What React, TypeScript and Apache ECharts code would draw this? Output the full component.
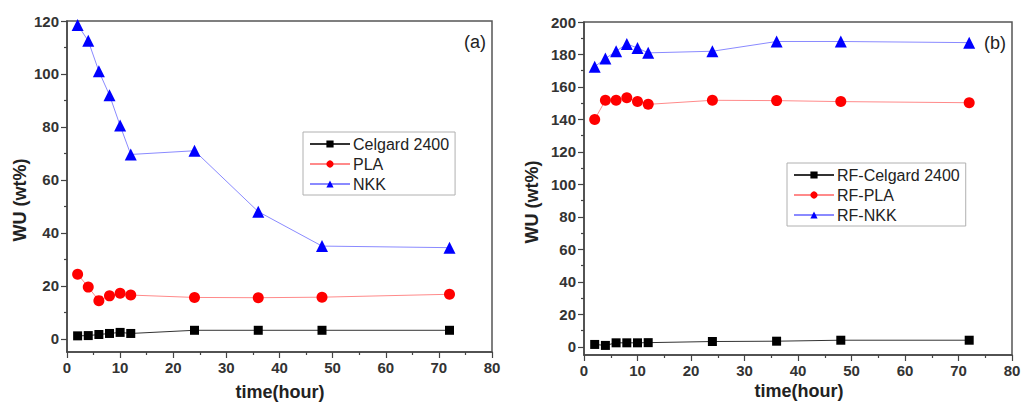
import React, { useEffect, useRef } from "react";
import * as echarts from "echarts";

const timeHours = [2, 4, 6, 8, 10, 12, 24, 36, 48, 72];

const celgardA = [1.1, 1.2, 1.6, 2.0, 2.4, 2.0, 3.2, 3.2, 3.2, 3.2];
const plaA = [24.4, 19.5, 14.4, 16.2, 17.2, 16.5, 15.6, 15.5, 15.7, 16.8];
const nkkA = [118.5, 112.5, 101, 92, 80.5, 69.6, 71, 48, 35, 34.4];

const celgardB = [1.5, 0.9, 2.5, 2.5, 2.5, 2.6, 3.3, 3.5, 4.1, 4.1];
const plaB = [140, 151.8, 151.8, 153.4, 151, 149.3, 151.8, 151.6, 151, 150.3];
const nkkB = [172.5, 177.5, 182, 186.5, 184, 181, 182, 188, 188, 187.3];

const namesA = ["Celgard 2400", "PLA", "NKK"];
const namesB = ["RF-Celgard 2400", "RF-PLA", "RF-NKK"];

const yMajorA = [0, 20, 40, 60, 80, 100, 120];
const yMinorA = [10, 30, 50, 70, 90, 110];
const yMajorB = [0, 20, 40, 60, 80, 100, 120, 140, 160, 180, 200];
const yMinorB = [10, 30, 50, 70, 90, 110, 130, 150, 170, 190];

const FONT = "Liberation Sans, Arial, sans-serif";

const pair = (vals: number[]) => timeHours.map((t, i) => [t, vals[i]]);

const styles = [
  { line: "#333333", marker: "#000000", symbol: "rect", size: 9 },
  { line: "#ff8a8a", marker: "#ff0000", symbol: "circle", size: 11 },
  { line: "#8a8aff", marker: "#0000ff", symbol: "triangle", size: 12 },
];

function makeSeries(names: string[], datas: number[][], idx: number) {
  return names.map((n, i) => ({
    name: n,
    type: "line",
    xAxisIndex: idx,
    yAxisIndex: idx,
    data: pair(datas[i]),
    symbol: styles[i].symbol,
    symbolSize: styles[i].size,
    lineStyle: { color: styles[i].line, width: 1 },
    itemStyle: { color: styles[i].marker },
    z: 3 + i,
  }));
}

function xAxis(idx: number) {
  return {
    type: "value",
    gridIndex: idx,
    min: 0,
    max: 80,
    interval: 10,
    axisLine: { show: true, onZero: false, lineStyle: { color: "#444", width: 1.5 } },
    axisTick: { show: true, inside: false, length: 6, lineStyle: { color: "#444", width: 1.2 } },
    minorTick: { show: true, splitNumber: 2, length: 3, lineStyle: { color: "#444", width: 1.2 } },
    splitLine: { show: false },
    axisLabel: { fontFamily: FONT, fontWeight: "bold", fontSize: 15, color: "#333", margin: 8 },
  };
}

function yAxis(idx: number, max: number, major: number[]) {
  return {
    type: "value",
    gridIndex: idx,
    min: -5,
    max,
    axisLine: { show: true, onZero: false, lineStyle: { color: "#444", width: 1.5 } },
    axisTick: { show: true, inside: false, length: 6, customValues: major, lineStyle: { color: "#444", width: 1.2 } },
    splitLine: { show: false },
    axisLabel: {
      fontFamily: FONT,
      fontWeight: "bold",
      fontSize: 15,
      color: "#333",
      margin: 8,
      customValues: major,
    },
  };
}

function yMinorAxis(idx: number, max: number, minor: number[]) {
  return {
    type: "value",
    gridIndex: idx,
    position: "left",
    min: -5,
    max,
    axisLine: { show: false, onZero: false },
    axisTick: { show: true, inside: false, length: 3, customValues: minor, lineStyle: { color: "#444", width: 1.2 } },
    splitLine: { show: false },
    axisLabel: { show: false },
  };
}

function legend(names: string[], left: number, top: number) {
  return {
    orient: "vertical",
    left,
    top,
    data: names,
    itemWidth: 40,
    itemHeight: 9,
    itemGap: 4,
    padding: [4, 6, 3, 6],
    borderColor: "#b0b0b0",
    borderWidth: 1,
    backgroundColor: "#fff",
    textStyle: { fontFamily: FONT, fontSize: 16, color: "#222", padding: [0, 0, 0, -2] },
  };
}

export default function App() {
  const ref = useRef<HTMLDivElement>(null);
  useEffect(() => {
    if (!ref.current) return;
    const chart = echarts.init(ref.current, undefined, { renderer: "svg" });
    chart.setOption({
      animation: false,
      backgroundColor: "#fff",
      grid: [
        { left: 67, right: 532, top: 21, bottom: 50, show: true, borderColor: "#555", borderWidth: 1.5, backgroundColor: "transparent" },
        { left: 584, right: 12, top: 22, bottom: 47, show: true, borderColor: "#555", borderWidth: 1.5, backgroundColor: "transparent" },
      ],
      xAxis: [xAxis(0), xAxis(1)],
      yAxis: [
        yAxis(0, 120, yMajorA),
        yAxis(1, 200, yMajorB),
        yMinorAxis(0, 120, yMinorA),
        yMinorAxis(1, 200, yMinorB),
      ],
      legend: [legend(namesA, 303, 132), legend(namesB, 787, 163)],
      series: [
        ...makeSeries(namesA, [celgardA, plaA, nkkA], 0),
        ...makeSeries(namesB, [celgardB, plaB, nkkB], 1),
      ],
      graphic: [
        { type: "text", x: 475, y: 42, style: { text: "(a)", fontFamily: FONT, fontSize: 18, fill: "#222", align: "center", verticalAlign: "middle" } },
        { type: "text", x: 995, y: 43, style: { text: "(b)", fontFamily: FONT, fontSize: 18, fill: "#222", align: "center", verticalAlign: "middle" } },
        { type: "text", x: 20, y: 200, rotation: Math.PI / 2, style: { text: "WU (wt%)", fontFamily: FONT, fontWeight: "bold", fontSize: 18, fill: "#222", align: "center", verticalAlign: "middle" } },
        { type: "text", x: 532, y: 202, rotation: Math.PI / 2, style: { text: "WU (wt%)", fontFamily: FONT, fontWeight: "bold", fontSize: 18, fill: "#222", align: "center", verticalAlign: "middle" } },
        { type: "text", x: 280, y: 392, style: { text: "time(hour)", fontFamily: FONT, fontWeight: "bold", fontSize: 18, fill: "#222", align: "center", verticalAlign: "middle" } },
        { type: "text", x: 799, y: 391, style: { text: "time(hour)", fontFamily: FONT, fontWeight: "bold", fontSize: 18, fill: "#222", align: "center", verticalAlign: "middle" } },
      ],
    });
    return () => chart.dispose();
  }, []);
  return <div ref={ref} style={{ width: 1024, height: 402, position: "absolute", left: 0, top: 0 }} />;
}
